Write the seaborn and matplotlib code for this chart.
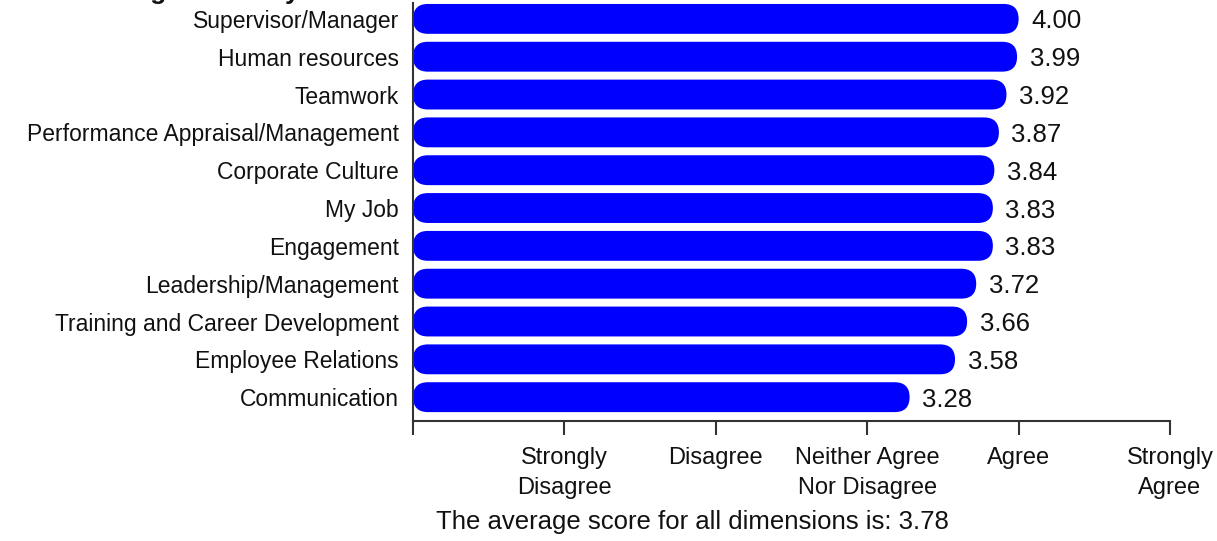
import matplotlib
matplotlib.use("Agg")
import matplotlib.pyplot as plt
import seaborn as sns
import pandas as pd
from matplotlib.patches import FancyBboxPatch

categories = [
    "Supervisor/Manager", "Human resources", "Teamwork",
    "Performance Appraisal/Management", "Corporate Culture", "My Job",
    "Engagement", "Leadership/Management", "Training and Career Development",
    "Employee Relations", "Communication",
]
scores = [4.00, 3.99, 3.92, 3.87, 3.84, 3.83, 3.83, 3.72, 3.66, 3.58, 3.28]
tick_values = [0, 1, 2, 3, 4, 5]
tick_labels = ["", "Strongly\nDisagree", "Disagree", "Neither Agree\nNor Disagree",
               "Agree", "Strongly\nAgree"]
average_score = 3.78
title_text = "Average Score by Dimension"

sns.set_style("white")
plt.rcParams["font.family"] = ["Liberation Sans", "DejaVu Sans"]

df = pd.DataFrame({"Dimension": categories, "Score": scores})

W, H = 1217, 541
fig = plt.figure(figsize=(W / 100, H / 100), dpi=100)
ax = fig.add_axes([413 / W, 1 - 421 / H, (1170 - 413) / W, (421 - 3) / H])

sns.barplot(data=df, x="Score", y="Dimension", orient="h", color="#0000ff",
            width=0.79, ax=ax, saturation=1)

ax.set_xlim(0, 5)
ax.set_ylim(10.63, -0.42)

# replace rectangles with rounded bars
px_per_x = ax.bbox.width / 5.0
px_per_y = ax.bbox.height / (10.63 + 0.42)
aspect = px_per_x / px_per_y
rects = list(ax.patches)
for r in rects:
    x0, y0, w, h = r.get_x(), r.get_y(), r.get_width(), r.get_height()
    rad = (h / aspect) / 2.0
    fb = FancyBboxPatch((x0, y0), w, h,
                        boxstyle=f"round,pad=0,rounding_size={rad}",
                        mutation_aspect=aspect, facecolor="#0000ff",
                        edgecolor="none", clip_on=False)
    r.remove()
    ax.add_patch(fb)

for i, v in enumerate(scores):
    ax.annotate(f"{v:.2f}", xy=(v, i), xytext=(9, 0), textcoords="offset points",
                va="center_baseline", ha="left", fontsize=18.5, color="#111111")

ax.set_xticks(tick_values)
ax.set_xticklabels(tick_labels, fontsize=17, linespacing=1.45)
ax.set_xlabel("")
ax.set_ylabel("")
ax.tick_params(axis="x", length=10, width=1.5, color="#333333", pad=9,
               labelcolor="#111111", bottom=True)
ax.tick_params(axis="y", length=0, pad=10, labelsize=16.5, labelcolor="#111111")

for s in ["top", "right"]:
    ax.spines[s].set_visible(False)
for s in ["left", "bottom"]:
    ax.spines[s].set_color("#333333")
    ax.spines[s].set_linewidth(1.5)

fig.text(692 / W, 1 - 519 / H,
         f"The average score for all dimensions is: {average_score:.2f}",
         ha="center", va="center_baseline", fontsize=18.5, color="#111111")

fig.text(78 / W, 1 + 1 / H, title_text, ha="left", va="baseline",
         fontsize=19, fontweight="bold", color="#111111")

fig.savefig("out.png", dpi=100)
